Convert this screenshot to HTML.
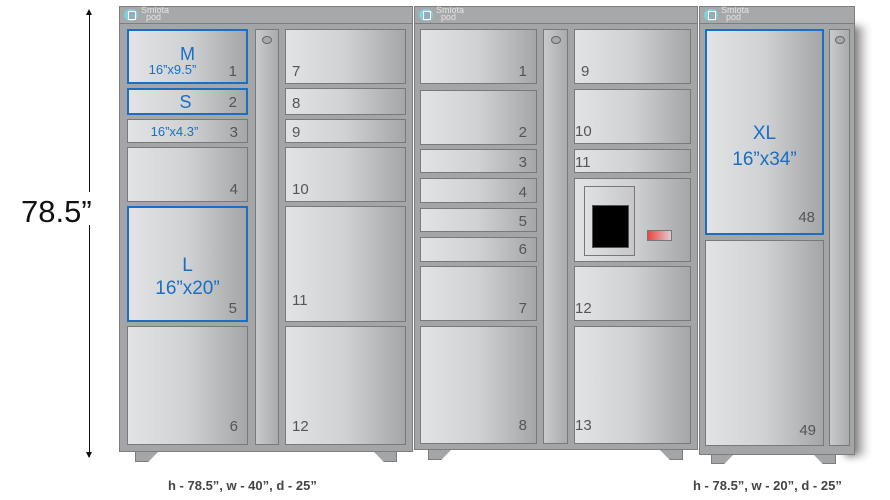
<!DOCTYPE html>
<html><head><meta charset="utf-8"><style>
body{margin:0;width:890px;height:500px;background:#fff;position:relative;overflow:hidden;font-family:"Liberation Sans",sans-serif}
div{box-sizing:border-box}
.a{position:absolute}
.cab{position:absolute;background:#a3a5a7;border:1.5px solid #7b7d7f}
.hd{position:absolute;left:0;right:0;top:0;height:17px;border-bottom:1.5px solid #7b7d7f;background:#a6a8aa}
.logo{position:absolute;left:4px;top:2px;width:14px;height:12px;border-radius:50%;background:#7fd0e0}
.logo:after{content:"";position:absolute;left:4px;top:2px;width:6px;height:7px;border:1px solid #fff;background:#9ab}
.lt{position:absolute;left:21px;top:0px;font-size:9px;line-height:7px;color:#e4e4e4}
.b{position:absolute;border:1.5px solid #777a7c;background:linear-gradient(90deg,#e2e3e5 0%,#d0d1d3 50%,#a4a6a8 100%)}
.bl{border:2.5px solid #1a6ec4}
.p{position:absolute;border:1.5px solid #777a7c;background:linear-gradient(90deg,#c9cacc,#a9abad)}
.dot{position:absolute;left:50%;top:6px;width:10px;height:8px;margin-left:-5px;border:1.5px solid #666;border-radius:50%;background:#aaa}
.n{position:absolute;bottom:3px;font-size:15px;color:#555}
.r{right:9px}.l{left:6px}
.blt{position:absolute;left:0;right:0;text-align:center;color:#1a6ec4}
.ft{position:absolute;width:24px;height:11px;background:#a3a5a7;border:1.5px solid #7b7d7f;border-top:none}
.fl{clip-path:polygon(0 0,100% 0,55% 100%,0 100%)}
.fr{clip-path:polygon(0 0,100% 0,100% 100%,45% 100%)}
.cap{position:absolute;top:478px;font-size:13px;font-weight:bold;color:#444}
</style></head><body>

<div class="a" style="left:89px;top:12px;width:1.3px;height:180px;background:#111"></div>
<div class="a" style="left:89px;top:225px;width:1.3px;height:232px;background:#111"></div>
<div class="a" style="left:86px;top:9px;width:0;height:0;border-left:3.5px solid transparent;border-right:3.5px solid transparent;border-bottom:6px solid #111"></div>
<div class="a" style="left:86px;top:452px;width:0;height:0;border-left:3.5px solid transparent;border-right:3.5px solid transparent;border-top:6px solid #111"></div>
<div class="a" style="left:21px;top:194px;font-size:31px;color:#111">78.5”</div>

<div class="a" style="left:846px;top:26px;width:22px;height:430px;background:linear-gradient(90deg,#222,rgba(0,0,0,0));filter:blur(4px);opacity:.9"></div>

<div class="ft fl" style="left:135px;top:451px"></div>
<div class="ft fr" style="left:373px;top:451px"></div>
<div class="ft fl" style="left:428px;top:449px"></div>
<div class="ft fr" style="left:659px;top:449px"></div>
<div class="ft fl" style="left:711px;top:453px"></div>
<div class="ft fr" style="left:812px;top:453px"></div>

<div class="cab" style="left:119px;top:6px;width:294px;height:446px">
<div class="hd"><div class="logo"></div><div class="lt">Smiota<br>&nbsp;&nbsp;pod</div></div>
</div>
<div class="b bl" style="left:127px;top:29px;width:121px;height:55px"><div class="blt" style="top:14px;font-size:18px;line-height:18px">M</div><div class="blt" style="top:31px;font-size:13px;left:-30px">16”x9.5”</div><div class="n r" style="bottom:2px">1</div></div>
<div class="b bl" style="left:127px;top:88px;width:121px;height:27px"><div class="blt" style="top:2px;font-size:18px;left:-4px">S</div><div class="n r" style="bottom:2px">2</div></div>
<div class="b" style="left:127px;top:119px;width:121px;height:24px"><div class="blt" style="top:4px;font-size:13px;left:-26px">16”x4.3”</div><div class="n r" style="bottom:1px">3</div></div>
<div class="b" style="left:127px;top:147px;width:121px;height:55px"><div class="n r">4</div></div>
<div class="b bl" style="left:127px;top:206px;width:121px;height:116px"><div class="blt" style="top:47px;font-size:19px">L</div><div class="blt" style="top:70px;font-size:19px">16”x20”</div><div class="n r">5</div></div>
<div class="b" style="left:127px;top:326px;width:121px;height:119px"><div class="n r" style="bottom:9px">6</div></div>
<div class="p" style="left:255px;top:29px;width:24px;height:416px"><div class="dot"></div></div>
<div class="b" style="left:285px;top:29px;width:121px;height:55px"><div class="n l">7</div></div>
<div class="b" style="left:285px;top:88px;width:121px;height:27px"><div class="n l" style="bottom:2px">8</div></div>
<div class="b" style="left:285px;top:119px;width:121px;height:24px"><div class="n l" style="bottom:1px">9</div></div>
<div class="b" style="left:285px;top:147px;width:121px;height:55px"><div class="n l">10</div></div>
<div class="b" style="left:285px;top:206px;width:121px;height:116px"><div class="n l" style="bottom:12px">11</div></div>
<div class="b" style="left:285px;top:326px;width:121px;height:119px"><div class="n l" style="bottom:9px">12</div></div>

<div class="cab" style="left:414px;top:6px;width:284px;height:444px">
<div class="hd"><div class="logo"></div><div class="lt">Smiota<br>&nbsp;&nbsp;pod</div></div>
</div>
<div class="b" style="left:420px;top:29px;width:117px;height:55px"><div class="n r">1</div></div>
<div class="b" style="left:420px;top:90px;width:117px;height:55px"><div class="n r">2</div></div>
<div class="b" style="left:420px;top:149px;width:117px;height:24px"><div class="n r" style="bottom:1px">3</div></div>
<div class="b" style="left:420px;top:178px;width:117px;height:25px"><div class="n r" style="bottom:1px">4</div></div>
<div class="b" style="left:420px;top:208px;width:117px;height:24px"><div class="n r" style="bottom:1px">5</div></div>
<div class="b" style="left:420px;top:237px;width:117px;height:25px"><div class="n r" style="bottom:3px">6</div></div>
<div class="b" style="left:420px;top:266px;width:117px;height:55px"><div class="n r">7</div></div>
<div class="b" style="left:420px;top:326px;width:117px;height:118px"><div class="n r" style="bottom:9px">8</div></div>
<div class="p" style="left:543px;top:29px;width:25px;height:415px"><div class="dot"></div></div>
<div class="b" style="left:574px;top:29px;width:117px;height:55px"><div class="n l">9</div></div>
<div class="b" style="left:574px;top:89px;width:117px;height:55px"><div class="n l" style="left:0">10</div></div>
<div class="b" style="left:574px;top:149px;width:117px;height:24px"><div class="n l" style="left:0;bottom:1px">11</div></div>
<div class="b" style="left:574px;top:178px;width:117px;height:84px">
 <div class="a" style="left:9px;top:7px;width:51px;height:70px;border:1.5px solid #777;background:linear-gradient(90deg,#e0e1e3,#c6c7c9)"></div>
 <div class="a" style="left:17px;top:26px;width:37px;height:43px;border:1px solid #555;background:#000"></div>
 <div class="a" style="left:72px;top:51px;width:25px;height:11px;border:1px solid #777;background:linear-gradient(90deg,#e44,#dcc)"></div>
</div>
<div class="b" style="left:574px;top:266px;width:117px;height:55px"><div class="n l" style="left:0">12</div></div>
<div class="b" style="left:574px;top:326px;width:117px;height:118px"><div class="n l" style="left:0;bottom:9px">13</div></div>

<div class="cab" style="left:699px;top:6px;width:156px;height:449px">
<div class="hd"><div class="logo"></div><div class="lt">Smiota<br>&nbsp;&nbsp;pod</div></div>
</div>
<div class="b bl" style="left:705px;top:29px;width:119px;height:206px"><div class="blt" style="top:92px;font-size:19px">XL</div><div class="blt" style="top:118px;font-size:19px">16”x34”</div><div class="n r" style="bottom:7px;right:7px">48</div></div>
<div class="b" style="left:705px;top:240px;width:119px;height:206px"><div class="n r" style="bottom:6px;right:7px">49</div></div>
<div class="p" style="left:829px;top:29px;width:21px;height:417px"><div class="dot"></div></div>

<div class="cap" style="left:168px">h - 78.5”, w - 40”, d - 25”</div>
<div class="cap" style="left:693px">h - 78.5”, w - 20”, d - 25”</div>
</body></html>
